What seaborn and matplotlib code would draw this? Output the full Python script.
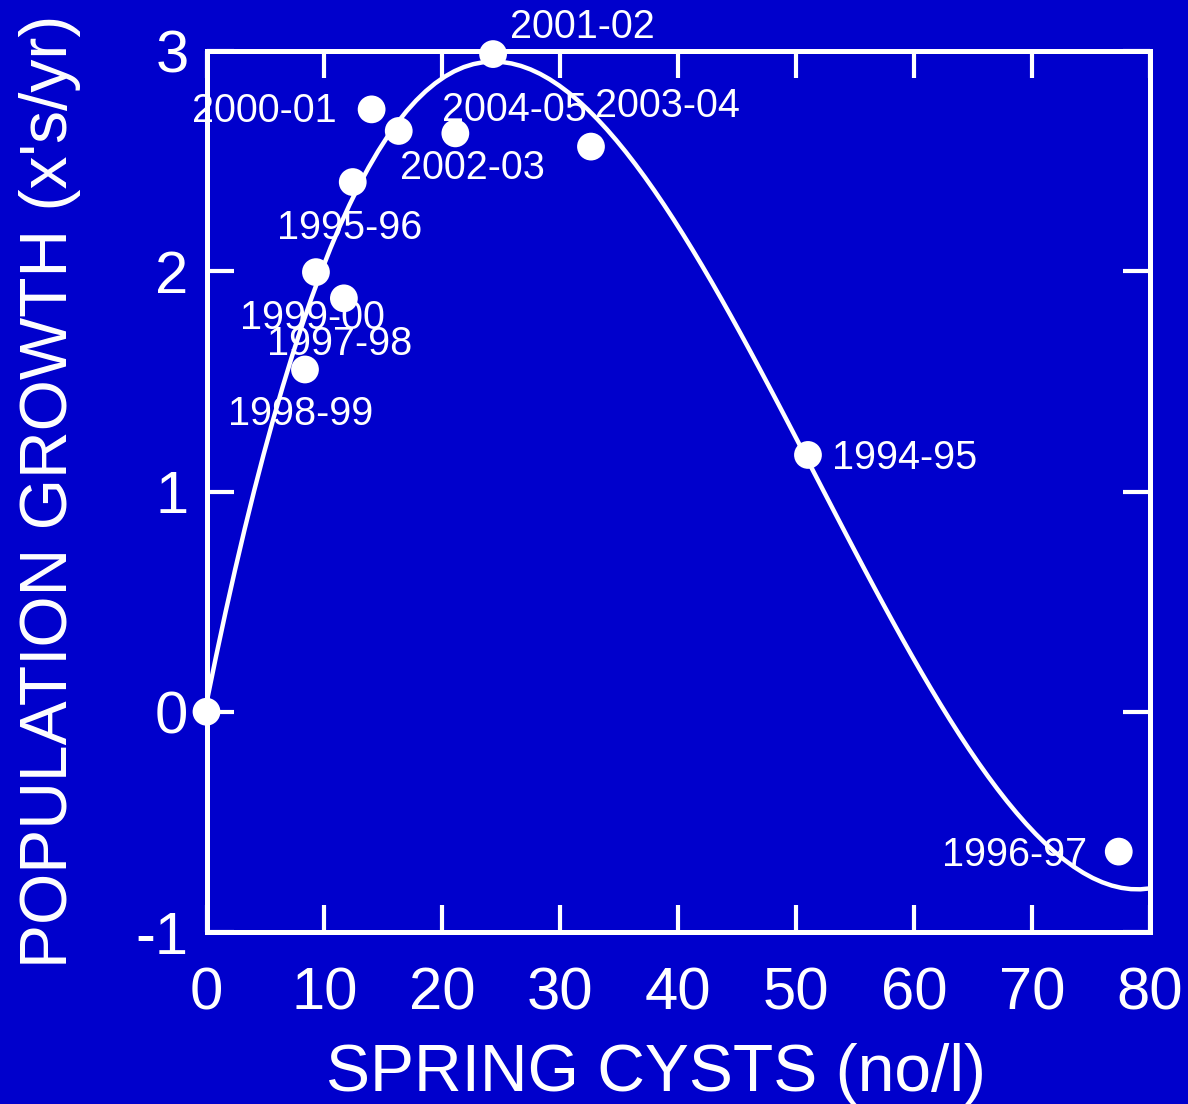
import matplotlib
matplotlib.use("Agg")
import matplotlib.pyplot as plt
import seaborn as sns
import pandas as pd

# ---- data ----
seasons = ["", "1994-95", "1995-96", "1996-97", "1997-98", "1998-99", "1999-00",
           "2000-01", "2001-02", "2002-03", "2003-04", "2004-05"]
cysts = [0.0, 51.0, 12.4, 77.35, 11.65, 8.35, 9.28, 14.0, 24.3, 16.3, 32.6, 21.1]
growth = [0.0, 1.166, 2.405, -0.635, 1.877, 1.554, 1.996, 2.735, 2.986, 2.637, 2.566, 2.626]

# points
curve_cysts = [0.0, 2.0, 3.4, 4.5, 5.7, 7.9, 9.3, 11.3, 12.6, 14.4, 16.4, 19.2, 22.0,
               24.3, 27.4, 30.2, 32.5, 34.5, 36.7, 39.0, 41.25, 44.1, 46.9, 49.7,
               52.6, 55.4, 58.2, 59.9, 62.7, 65.5, 68.4, 71.2, 74.0, 76.9, 78.5, 80.0]
curve_growth = [0.03, 0.55, 0.86, 1.09, 1.30, 1.77, 1.96, 2.20, 2.37, 2.54, 2.69, 2.84,
                2.92, 2.94, 2.91, 2.82, 2.72, 2.61, 2.46, 2.29, 2.08, 1.84, 1.57, 1.27,
                0.99, 0.70, 0.42, 0.24, -0.02, -0.25, -0.45, -0.60, -0.71, -0.79, -0.81, -0.80]

x_ticks = [0, 10, 20, 30, 40, 50, 60, 70, 80]
y_ticks = [-1, 0, 1, 2, 3]
x_label = "SPRING CYSTS (no/l)"
y_label = "POPULATION GROWTH (x's/yr)"

# label placement (pixels: dx right, dy up, horizontal alignment)
label_place = {
    "1994-95": (24, -14, "left"),
    "1995-96": (-3, -57, "center"),
    "1996-97": (-32, -14, "right"),
    "1997-98": (-4, -57, "center"),
    "1998-99": (-4, -56, "center"),
    "1999-00": (-4, -57, "center"),
    "2000-01": (-35, -13, "right"),
    "2001-02": (17, 16, "left"),
    "2002-03": (1, -48, "left"),
    "2003-04": (4, 30, "left"),
    "2004-05": (-13, 12, "left"),
}

BG = "#0000CC"
FG = "white"

sns.set_theme(style="ticks")
plt.rcParams["font.family"] = ["Liberation Sans", "DejaVu Sans"]
plt.rcParams["axes.unicode_minus"] = False

fig = plt.figure(figsize=(11.88, 11.04), dpi=100, facecolor=BG)
ax = fig.add_axes([206.5 / 1188, 1 - 932 / 1104, 943.5 / 1188, 881 / 1104])
ax.set_facecolor(BG)

pts = pd.DataFrame({"season": seasons, "cysts": cysts, "growth": growth})
curve = pd.DataFrame({"cysts": curve_cysts, "growth": curve_growth})

# smooth fitted curve through the read curve points (seaborn polynomial fit)
sns.regplot(data=curve, x="cysts", y="growth", order=3, ci=None, scatter=False,
            truncate=True, color=FG, ax=ax,
            line_kws={"linewidth": 3.2, "zorder": 3, "solid_capstyle": "round"})
sns.scatterplot(data=pts, x="cysts", y="growth", color=FG, s=400,
                edgecolor="none", linewidth=0, ax=ax, zorder=5, clip_on=False)

for s, x, y in zip(seasons, cysts, growth):
    if s in label_place:
        dx, dy, ha = label_place[s]
        ax.annotate(s, (x, y), xytext=(dx, dy), textcoords="offset pixels",
                    ha=ha, va="baseline", color=FG, fontsize=28.5, zorder=6,
                    annotation_clip=False)

ax.set_xlim(0, 80)
ax.set_ylim(-1, 3)
ax.set_xticks(x_ticks)
ax.set_xticklabels([str(v) for v in x_ticks])
ax.set_yticks(y_ticks)
ax.set_yticklabels([str(v) for v in y_ticks])

for sp in ax.spines.values():
    sp.set_visible(True)
    sp.set_color(FG)
    sp.set_linewidth(3.6)

ax.tick_params(axis="both", which="major", direction="in", length=19.5, width=3,
               color=FG, labelcolor=FG, labelsize=43, top=True, right=True)
ax.tick_params(axis="x", pad=25)
ax.tick_params(axis="y", pad=13)

ax.set_xlabel(x_label, color=FG, fontsize=47.5)
ax.set_ylabel(y_label, color=FG, fontsize=47.5)
ax.xaxis.set_label_coords(0.476, -0.1265)
ax.yaxis.set_label_coords(-0.133, 0.5)

fig.savefig("out.png", dpi=100, facecolor=BG)
